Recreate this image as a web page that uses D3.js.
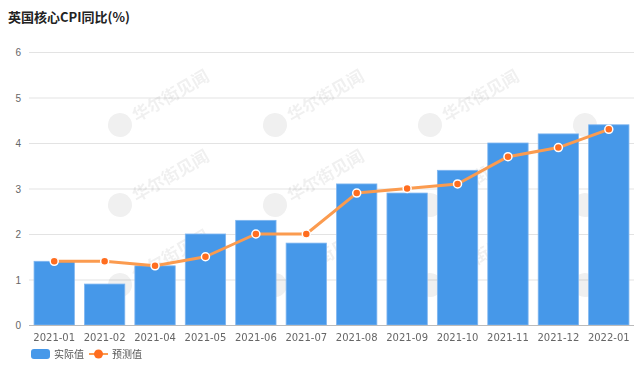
<!DOCTYPE html>
<html><head><meta charset="utf-8">
<script src="https://cdn.jsdelivr.net/npm/d3@7/dist/d3.min.js"></script>
<style>body{margin:0;background:#fff;font-family:"Noto Sans CJK SC","Noto Sans",sans-serif;}</style>
</head><body><svg id="c" width="637" height="367"></svg>
<script>
const categories = ["2021-01","2021-02","2021-04","2021-05","2021-06","2021-07","2021-08","2021-09","2021-10","2021-11","2021-12","2022-01"];
const actual = [1.4,0.9,1.3,2.0,2.3,1.8,3.1,2.9,3.4,4.0,4.2,4.4];
const forecast = [1.4,1.4,1.3,1.5,2.0,2.0,2.9,3.0,3.1,3.7,3.9,4.3];
const yTicks = [0,1,2,3,4,5,6];
const title = "英国核心CPI同比(%)";
const seriesNames = ["实际值","预测值"];
const watermark = "华尔街见闻";

const svg = d3.select("#c");
const m = {l:29, r:3, t:52, b:42};
const W = 637, H = 367;
const x = d3.scaleBand().domain(categories).range([m.l, W-m.r]).paddingInner(0.2).paddingOuter(0.1);
const y = d3.scaleLinear().domain([0,6]).range([H-m.b, m.t]);

svg.append("text").attr("x",8).attr("y",22).text(title)
  .attr("font-size",13).attr("font-weight","bold").attr("fill","#222");

// grid
const g = svg.append("g");
g.selectAll("line.grid").data(yTicks.filter(d=>d>0)).join("line")
  .attr("x1",m.l).attr("x2",W-m.r).attr("y1",d=>y(d)+0.5).attr("y2",d=>y(d)+0.5)
  .attr("stroke","#e3e3e3").attr("stroke-width",1);
g.selectAll("text.yt").data(yTicks).join("text")
  .attr("x",21).attr("y",d=>y(d)+4).attr("text-anchor","end")
  .attr("font-size",10).attr("fill","#666").attr("font-family","Liberation Sans, Arial, sans-serif").text(d=>d);

// watermarks
const wm = svg.append("g").attr("opacity",0.06);
const cols = [120,275,430,585], rows = [125,205,285];
rows.forEach(py=>cols.forEach((px,ci)=>{
  const w = wm.append("g").attr("transform",`translate(${px},${py}) rotate(-30)`);
  w.append("circle").attr("cx",0).attr("cy",0).attr("r",12).attr("fill","#000");
  if (ci < 3) w.append("text").attr("x",16).attr("y",6).attr("font-size",17).attr("font-weight","bold").attr("fill","#000").text(watermark);
}));

// bars
svg.append("g").selectAll("rect").data(actual).join("rect")
  .attr("x",(d,i)=>x(categories[i])).attr("width",x.bandwidth())
  .attr("y",d=>y(d)).attr("height",d=>y(0)-y(d))
  .attr("fill","#4698e9").attr("stroke","#7fb6f0").attr("stroke-width",0.8);

// axis baseline
svg.append("line").attr("x1",m.l).attr("x2",W-m.r).attr("y1",y(0)+0.5).attr("y2",y(0)+0.5)
  .attr("stroke","#bbb");
svg.append("g").selectAll("text").data(categories).join("text")
  .attr("x",d=>x(d)+x.bandwidth()/2).attr("y",y(0)+16).attr("text-anchor","middle")
  .attr("font-size",10).attr("fill","#666").attr("font-family","DejaVu Sans, sans-serif").text(d=>d);

// line
const cx = (i)=>x(categories[i])+x.bandwidth()/2;
const line = d3.line().x((d,i)=>cx(i)).y(d=>y(d));
svg.append("path").datum(forecast).attr("d",line).attr("fill","none")
  .attr("stroke","#fb9b4f").attr("stroke-width",3).attr("stroke-linejoin","round");
svg.append("g").selectAll("circle").data(forecast).join("circle")
  .attr("cx",(d,i)=>cx(i)).attr("cy",d=>y(d)).attr("r",4)
  .attr("fill","#ff6d1f").attr("stroke","#fff").attr("stroke-width",1.5);

// legend
const lg = svg.append("g");
lg.append("rect").attr("x",31).attr("y",349).attr("width",19).attr("height",10).attr("rx",3).attr("fill","#4698e9");
lg.append("text").attr("x",54).attr("y",358).attr("font-size",10).attr("fill","#555").text(seriesNames[0]);
lg.append("line").attr("x1",89).attr("x2",108).attr("y1",354).attr("y2",354).attr("stroke","#fb9b4f").attr("stroke-width",2);
lg.append("circle").attr("cx",98.5).attr("cy",354).attr("r",4.5).attr("fill","#ff6d1f");
lg.append("text").attr("x",112).attr("y",358).attr("font-size",10).attr("fill","#555").text(seriesNames[1]);
</script></body></html>
